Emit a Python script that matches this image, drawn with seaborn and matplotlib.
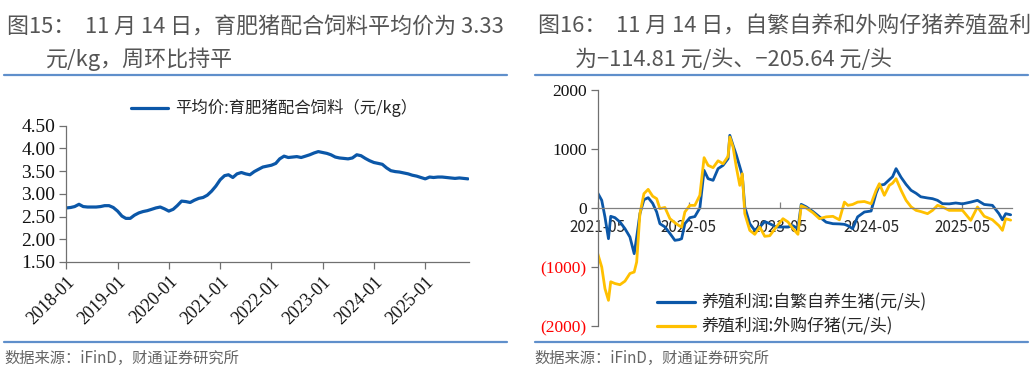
import numpy as np
import pandas as pd
import matplotlib
matplotlib.use("Agg")
import matplotlib.pyplot as plt
import matplotlib.dates as mdates
from matplotlib.ticker import FuncFormatter, FixedLocator
from matplotlib.lines import Line2D
import seaborn as sns

# ---------------- data ----------------
feed_start = "2018-01-01"
feed_price = [2.69, 2.70, 2.72, 2.77, 2.72, 2.71, 2.71, 2.71, 2.72, 2.74, 2.74, 2.70,
              2.62, 2.51, 2.46, 2.46, 2.53, 2.58, 2.61, 2.63, 2.66, 2.69, 2.71, 2.67,
              2.62, 2.66, 2.74, 2.84, 2.83, 2.81, 2.86, 2.90, 2.92, 2.97, 3.06, 3.17,
              3.31, 3.40, 3.42, 3.36, 3.44, 3.47, 3.44, 3.42, 3.49, 3.54, 3.59, 3.61,
              3.63, 3.67, 3.77, 3.83, 3.80, 3.81, 3.82, 3.80, 3.83, 3.86, 3.90, 3.93,
              3.91, 3.89, 3.86, 3.81, 3.79, 3.78, 3.77, 3.79, 3.86, 3.84, 3.78, 3.73,
              3.69, 3.67, 3.65, 3.57, 3.51, 3.49, 3.48, 3.46, 3.44, 3.41, 3.39, 3.36,
              3.33, 3.37, 3.36, 3.37, 3.37, 3.36, 3.35, 3.34, 3.35, 3.34, 3.33]
feed_label = "平均价:育肥猪配合饲料（元/kg）"

profit_dates = ["2021-05-01", "2021-05-17", "2021-05-30", "2021-06-13", "2021-06-22", "2021-07-09",
                "2021-07-29", "2021-08-18", "2021-09-07", "2021-09-24", "2021-10-04", "2021-10-17",
                "2021-11-02", "2021-11-19", "2021-12-07", "2021-12-23", "2022-01-05", "2022-01-25",
                "2022-02-14", "2022-03-06", "2022-03-23", "2022-04-02", "2022-04-15", "2022-05-05",
                "2022-05-25", "2022-06-14", "2022-07-01", "2022-07-17", "2022-08-06", "2022-08-26",
                "2022-09-15", "2022-10-05", "2022-10-12", "2022-10-25", "2022-11-07", "2022-11-21",
                "2022-12-01", "2022-12-11", "2022-12-31", "2023-01-20", "2023-02-09", "2023-03-01",
                "2023-03-21", "2023-04-16", "2023-05-13", "2023-06-02", "2023-06-22", "2023-07-12",
                "2023-07-25", "2023-08-14", "2023-09-10", "2023-10-06", "2023-11-02", "2023-11-29",
                "2023-12-25", "2024-01-14", "2024-01-28", "2024-02-16", "2024-03-07", "2024-04-03",
                "2024-04-30", "2024-05-20", "2024-06-02", "2024-06-22", "2024-07-12", "2024-07-25",
                "2024-08-08", "2024-08-28", "2024-09-17", "2024-10-07", "2024-10-27", "2024-11-15",
                "2024-12-12", "2025-01-01", "2025-01-21", "2025-02-10", "2025-03-09", "2025-04-04",
                "2025-05-01", "2025-06-03", "2025-06-30", "2025-07-27", "2025-08-29", "2025-09-24",
                "2025-10-08", "2025-10-21", "2025-11-10"]
profit_self = [254, 130, -153, -520, -141, -164,
               -237, -350, -492, -774, -492, -96,
               140, 175, 80, -68, -266, -320,
               -430, -548, -537, -520, -266, -164,
               -145, 0, 638, 497, 469, 667,
               723, 836, 1232, 1062, 900, 700,
               554, 17, -266, -379, -322, -230,
               -266, -322, -322, -320, -300, -350,
               62, 20, -60, -150, -240, -266,
               -270, -277, -300, -350, -150, -68,
               -51, 250, 384, 400, 480, 530,
               667, 520, 400, 300, 250, 190,
               170, 158, 130, 73, 70, 85,
               70, 100, 130, 60, 45, -96,
               -200, -96, -115]
profit_bought = [-774, -1000, -1367, -1565, -1250, -1280,
                 -1300, -1240, -1110, -1085, -915, -96,
                 243, 316, 200, 158, -11, 10,
                 -180, -250, -300, -322, -68, 45,
                 45, 215, 853, 723, 684, 800,
                 751, 876, 1203, 1034, 695, 384,
                 582, -96, -379, -446, -322, -480,
                 -470, -322, -181, -237, -350, -446,
                 40, 0, -80, -181, -150, -141,
                 -200, 100, 45, 60, 100, 110,
                 73, 300, 412, 215, 384, 420,
                 497, 300, 130, 20, -40, -60,
                 -96, -40, 45, 17, -40, -40,
                 -40, -209, 17, -140, -200, -300,
                 -379, -181, -206]
label_self = "养殖利润:自繁自养生猪(元/头)"
label_bought = "养殖利润:外购仔猪(元/头)"

title_left = ["图15：  11 月 14 日，育肥猪配合饲料平均价为 3.33", "元/kg，周环比持平"]
title_right = ["图16：  11 月 14 日，自繁自养和外购仔猪养殖盈利", "为−114.81 元/头、−205.64 元/头"]
source_text = "数据来源：iFinD，财通证券研究所"

# ---------------- style ----------------
sns.set_theme(style="white")
plt.rcParams["font.family"] = ["Noto Sans CJK SC", "DejaVu Sans"]
plt.rcParams["axes.unicode_minus"] = False

BLUE = "#0B57A8"
YELLOW = "#FFC000"
RULE = "#5F8FCB"
GREY_TXT = "#555555"
SERIF = ["Liberation Serif", "DejaVu Serif"]

fig = plt.figure(figsize=(10.32, 3.73), dpi=100)

feed_df = pd.DataFrame({"date": pd.date_range(feed_start, periods=len(feed_price), freq="MS"),
                        "price": feed_price})
profit_df = pd.DataFrame({"date": pd.to_datetime(profit_dates),
                          label_self: profit_self, label_bought: profit_bought})
profit_long = profit_df.melt(id_vars="date", var_name="series", value_name="profit")

# ---------------- left chart ----------------
axL = fig.add_axes([0.0643, 0.2976, 0.3902, 0.3654])
sns.lineplot(data=feed_df, x="date", y="price", ax=axL, color=BLUE, linewidth=2.3, legend=False)
axL.set_ylim(1.5, 4.5)
axL.set_xlim(pd.Timestamp("2018-01-01"), feed_df["date"].iloc[-1] + pd.Timedelta(days=8))
axL.set_yticks(np.arange(1.5, 4.51, 0.5))
axL.yaxis.set_major_formatter(FuncFormatter(lambda v, p: f"{v:.2f}"))
year_ticks = pd.date_range("2018-01-01", "2025-01-01", freq="YS")
axL.set_xticks(year_ticks)
axL.set_xticklabels([d.strftime("%Y-%m") for d in year_ticks], rotation=45, ha="right",
                    va="top", rotation_mode="anchor", family=SERIF, fontsize=13, color="#111111")
for t in axL.get_yticklabels():
    t.set_family(SERIF)
    t.set_fontsize(14)
    t.set_color("#111111")
axL.set_xlabel("")
axL.set_ylabel("")
for s in ["top", "right"]:
    axL.spines[s].set_visible(False)
for s in ["left", "bottom"]:
    axL.spines[s].set_color("#707070")
    axL.spines[s].set_linewidth(0.9)
axL.tick_params(axis="both", direction="out", length=5, width=0.9, color="#707070",
                left=True, bottom=True, pad=3)
axL.legend(handles=[Line2D([], [], color=BLUE, lw=2.3)], labels=[feed_label],
           loc="center left", bbox_to_anchor=(0.1265, 0.7097), bbox_transform=fig.transFigure,
           frameon=False, fontsize=11.8, handlelength=2.3, handletextpad=0.4,
           borderpad=0, borderaxespad=0)

# ---------------- right chart ----------------
axR = fig.add_axes([0.5792, 0.1260, 0.4011, 0.6327])
sns.lineplot(data=profit_long, x="date", y="profit", hue="series",
             palette=[BLUE, YELLOW], linewidth=2.0, ax=axR, legend=False)
axR.set_ylim(-2000, 2000)
axR.set_xlim(pd.Timestamp("2021-05-01"), pd.Timestamp("2025-11-14"))
axR.set_yticks([-2000, -1000, 0, 1000, 2000])
axR.yaxis.set_major_formatter(FuncFormatter(lambda v, p: f"({abs(int(v))})" if v < 0 else f"{int(v)}"))
may_ticks = pd.date_range("2021-05-01", "2025-05-01", freq="12MS")
axR.set_xticks(may_ticks)
axR.set_xticklabels([d.strftime("%Y-%m") for d in may_ticks], family=SERIF, fontsize=12,
                    color="#111111")
axR.spines["bottom"].set_position(("data", 0))
for s in ["top", "right"]:
    axR.spines[s].set_visible(False)
axR.spines["left"].set_color("#707070")
axR.spines["bottom"].set_color("#808080")
axR.spines["left"].set_linewidth(0.9)
axR.spines["bottom"].set_linewidth(0.9)
axR.tick_params(axis="y", direction="out", length=5, width=0.9, color="#707070", left=True, pad=3)
axR.tick_params(axis="x", direction="in", length=4, width=0.9, color="#808080", bottom=True, pad=8)
for t in axR.get_yticklabels():
    t.set_family(SERIF)
    t.set_fontsize(12.5)
    t.set_color("#FF0000" if t.get_text().startswith("(") else "#111111")
axR.set_xlabel("")
axR.set_ylabel("")
axR.legend(handles=[Line2D([], [], color=BLUE, lw=2.3), Line2D([], [], color=YELLOW, lw=2.3)],
           labels=[label_self, label_bought],
           loc="lower left", bbox_to_anchor=(0.6370, 0.1000), bbox_transform=fig.transFigure,
           frameon=False, fontsize=12.2, handlelength=2.2, handletextpad=0.4,
           labelspacing=0.35, borderpad=0, borderaxespad=0)

# ---------------- titles, rules, source ----------------
def header(x0, x1, lines, indent):
    fig.text(x0 + 0.003, 1 - 26.5 / 373, lines[0], fontsize=15.8, color=GREY_TXT,
             ha="left", va="center")
    fig.text(indent, 1 - 59.5 / 373, lines[1], fontsize=15.8, color=GREY_TXT,
             ha="left", va="center")
    fig.add_artist(Line2D([x0, x1], [1 - 75 / 373] * 2, color=RULE, lw=1.6,
                          transform=fig.transFigure))
    fig.add_artist(Line2D([x0, x1], [1 - 342 / 373] * 2, color=RULE, lw=1.6,
                          transform=fig.transFigure))
    fig.text(x0, 1 - 358 / 373, source_text, fontsize=11, color="#666666",
             ha="left", va="center")

header(0.004, 0.491, title_left, 46 / 1032)
header(0.518, 0.996, title_right, 575 / 1032)

fig.savefig("out.png", dpi=100, facecolor="white")
